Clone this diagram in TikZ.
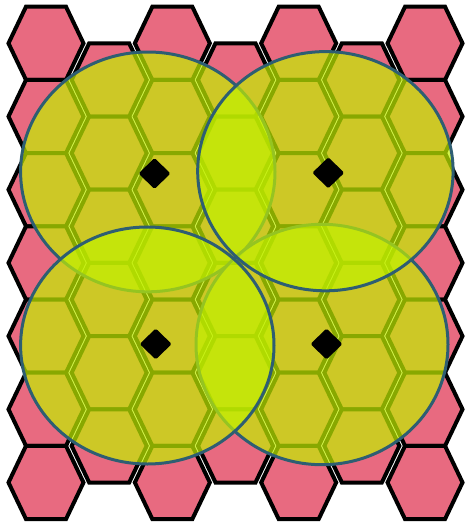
\documentclass[tikz,border=0pt]{standalone}
\usetikzlibrary{shapes.geometric}
\definecolor{hexpink}{RGB}{232,106,128}
\definecolor{zonefill}{RGB}{194,240,0}
\definecolor{zoneline}{RGB}{46,94,114}
\begin{document}
\begin{tikzpicture}[x=1pt,y=-1pt,
  hexcell/.style={draw=black, fill=hexpink, line width=4pt, line join=miter},
  zone/.style={fill=zonefill, fill opacity=0.7, draw=zoneline, line width=3pt},
  sensor/.style={diamond, fill=black, draw=none, inner sep=0pt, outer sep=0pt, minimum width=32pt, minimum height=31pt, rounded corners=1.5pt}]
\fill[white] (0,0) rectangle (464,525);
\useasboundingbox (0,0) rectangle (464,525);
% hexagon columns
\foreach \i in {0,2,4,6} {
  \foreach \j in {0,...,6} {
    \pgfmathsetmacro{\cx}{46+63.17*\i}
    \pgfmathsetmacro{\cy}{43.3+73.2*\j}
    \draw[hexcell, shift={(\cx,\cy)}] (-37.5,0) -- (-20,-36.6) -- (20,-36.6) -- (37.5,0) -- (20,36.6) -- (-20,36.6) -- cycle;
  }
}
\foreach \i in {1,3,5} {
  \foreach \j in {0,...,5} {
    \pgfmathsetmacro{\cx}{46+63.17*\i}
    \pgfmathsetmacro{\cy}{79.9+73.2*\j}
    \draw[hexcell, shift={(\cx,\cy)}] (-37.5,0) -- (-20,-36.6) -- (20,-36.6) -- (37.5,0) -- (20,36.6) -- (-20,36.6) -- cycle;
  }
}
% coverage zones
\draw[zone] (147.8,171.9) ellipse [x radius=127.2pt, y radius=119.9pt];
\draw[zone] (322,344.5) ellipse [x radius=126pt, y radius=120.2pt];
\draw[zone] (325.4,171.2) ellipse [x radius=127.7pt, y radius=119.6pt];
\draw[zone] (147.3,345.5) ellipse [x radius=126.7pt, y radius=118.5pt];
% sensors
\node[sensor] (s1) at (154.5,173.5) {};
\node[sensor] (s2) at (328.3,172.8) {};
\node[sensor] (s3) at (155.7,344) {};
\node[sensor] (s4) at (326.5,344) {};
\end{tikzpicture}
\end{document}
